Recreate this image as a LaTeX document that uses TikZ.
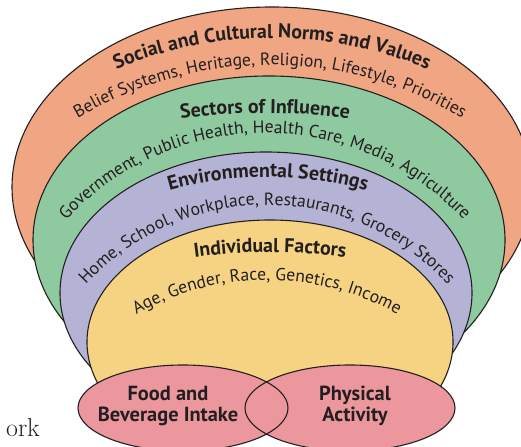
\documentclass[tikz,border=0pt]{standalone}
\usepackage{fontspec}
\newfontfamily\ptsans{PT Sans}
\usetikzlibrary{decorations.text}
\usetikzlibrary{calc}

\definecolor{inkline}{HTML}{231F20}
\definecolor{normsorange}{HTML}{F0A682}
\definecolor{sectorgreen}{HTML}{8FC9A0}
\definecolor{settingpurple}{HTML}{B5B3D5}
\definecolor{factoryellow}{HTML}{F5D382}
\definecolor{intakepink}{HTML}{EC979E}

\begin{document}
\begin{tikzpicture}[x=1bp,y=1bp,
	band/.style={draw=inkline, line width=1.1bp},
	headline/.style={decorate, decoration={text along path, text align=center, text color=inkline,
		text={|\ptsans\bfseries\fontsize{20}{22}\selectfont|#1}}},
	subline/.style={decorate, decoration={text along path, text align=center, text color=inkline,
		text={|\ptsans\fontsize{17.7}{20}\selectfont|#1}}},
	pinklabel/.style={align=center, text=inkline, inner sep=0pt,
		font=\ptsans\bfseries\fontsize{20.5}{21.5}\selectfont}]
	\useasboundingbox (0,0) rectangle (521,447);

	% nested bands, outer first
	\filldraw[band, fill=normsorange] (272,260) ellipse [x radius=260, y radius=180];
	\filldraw[band, fill=sectorgreen] (269,207) ellipse [x radius=236, y radius=164];
	\filldraw[band, fill=settingpurple] (266,154) ellipse [x radius=206, y radius=141];
	\begin{scope}
		\clip (0,30) rectangle (521,447);
		\filldraw[band, fill=factoryellow] (270,105) ellipse [x radius=183, y radius=122];
	\end{scope}

	% the two behaviours
	\fill[intakepink] (183,39) ellipse [x radius=105, y radius=43];
	\fill[intakepink] (350,39) ellipse [x radius=105, y radius=43];
	\draw[band] (183,39) ellipse [x radius=105, y radius=43];
	\draw[band] (350,39) ellipse [x radius=105, y radius=43];

	% band texts (fine polylines, so the letters keep to the curve)
	\path[headline={Social and Cultural Norms and Values}] plot[domain=160:20, samples=120] ({272+404*cos(\x)}, {5+404*sin(\x)});
	\path[subline={Belief Systems, Heritage, Religion, Lifestyle, Priorities}] plot[domain=170:10, samples=120] ({270+373*cos(\x)}, {9+373*sin(\x)});
	\path[headline={Sectors of Influence}] plot[domain=120:60, samples=60] ({265+600*cos(\x)}, {-266+600*sin(\x)});
	\path[subline={Government, Public Health, Health Care, Media, Agriculture}] plot[domain=178:2, samples=120] ({265+270*cos(\x)}, {44+270*sin(\x)});
	\path[headline={Environmental Settings}] plot[domain=140:40, samples=80] ({268+364*cos(\x)}, {-94+364*sin(\x)});
	\path[subline={Home, School, Workplace, Restaurants, Grocery Stores}] plot[domain=178:2, samples=120] ({267+245*cos(\x)}, {-3+245*sin(\x)});
	\path[headline={Individual Factors}] plot[domain=120:60, samples=60] ({270+556*cos(\x)}, {-361+556*sin(\x)});
	\path[subline={Age, Gender, Race, Genetics, Income}] plot[domain=160:20, samples=100] ({267+265*cos(\x)}, {-98+265*sin(\x)});

	\node[pinklabel] (food) at (168,41) {Food and\\Beverage Intake};
	\node[pinklabel] (activity) at (355,41) {Physical\\Activity};

	\node[anchor=base east, inner sep=0pt, text=inkline, font=\fontsize{26}{30}\selectfont] (framework) at (40,10) {ork};
\end{tikzpicture}
\end{document}
